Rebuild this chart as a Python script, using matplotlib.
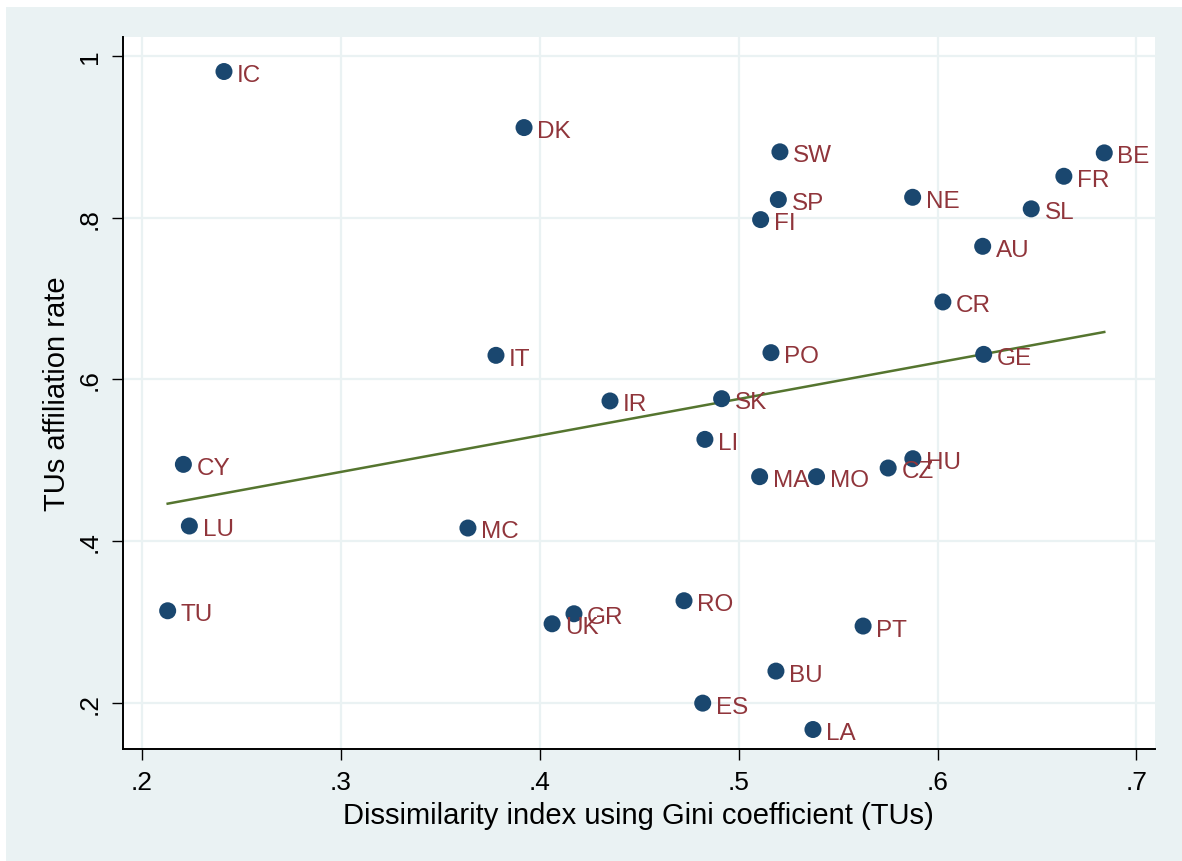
import numpy as np
import matplotlib
matplotlib.use("Agg")
import matplotlib.pyplot as plt
from matplotlib.patches import Rectangle

plt.rcParams['font.family'] = ['Liberation Sans', 'DejaVu Sans']

countries = ["IC", "DK", "SW", "SP", "FI", "NE", "BE", "FR", "SL", "AU", "CR", "GE",
             "PO", "IT", "IR", "SK", "LI", "MA", "MO", "CZ", "HU", "MC", "CY", "LU",
             "TU", "UK", "GR", "RO", "PT", "BU", "ES", "LA"]
gini = [0.2414, 0.3922, 0.5208, 0.5200, 0.5111, 0.5875, 0.6838, 0.6635, 0.6471, 0.6227,
        0.6027, 0.6232, 0.5163, 0.3781, 0.4354, 0.4915, 0.4831, 0.5106, 0.5392, 0.5752,
        0.5876, 0.3640, 0.2210, 0.2240, 0.2131, 0.4063, 0.4173, 0.4726, 0.5626, 0.5188,
        0.4820, 0.5374]
affil = [0.9806, 0.9113, 0.8813, 0.8223, 0.7975, 0.8251, 0.8800, 0.8511, 0.8108, 0.7645,
         0.6957, 0.6309, 0.6330, 0.6297, 0.5733, 0.5761, 0.5258, 0.4797, 0.4797, 0.4904,
         0.5019, 0.4162, 0.4949, 0.4187, 0.3139, 0.2978, 0.3102, 0.3263, 0.2950, 0.2393,
         0.1997, 0.1671]
xticks = [0.2, 0.3, 0.4, 0.5, 0.6, 0.7]
xticklabels = [".2", ".3", ".4", ".5", ".6", ".7"]
yticks = [0.2, 0.4, 0.6, 0.8, 1.0]
yticklabels = [".2", ".4", ".6", ".8", "1"]

W, H = 1182, 862
fig = plt.figure(figsize=(W / 100, H / 100), dpi=100)
fig.patch.set_facecolor("white")
bg = Rectangle((6 / W, 0), 1 - 6 / W, 1 - 8 / H, transform=fig.transFigure,
               facecolor="#EAF2F3", edgecolor="none", zorder=-10)
fig.add_artist(bg)

ax = fig.add_axes([122.5 / W, 1 - 750 / H, (1155 - 122.5) / W, (750 - 37.5) / H])
ax.set_zorder(1)
ax.set_facecolor("white")

x = np.array(gini)
y = np.array(affil)
slope, intercept = np.polyfit(x, y, 1)
xf = np.array([x.min(), x.max()])
ax.plot(xf, intercept + slope * xf, color="#55752F", lw=1.8, zorder=3)

ax.scatter(x, y, s=150, color="#1A476F", edgecolors="none", zorder=4)
for c, xi, yi in zip(countries, gini, affil):
    ax.annotate(c, (xi, yi), xytext=(9.5, -2.5), textcoords="offset points",
                ha="left", va="center", fontsize=17.5, color="#90353B", zorder=5)

ax.set_xlim(0.1904, 0.7093)
ax.set_ylim(0.143, 1.0239)
ax.set_xticks(xticks)
ax.set_xticklabels(xticklabels)
ax.set_yticks(yticks)
ax.set_yticklabels(yticklabels, rotation=90, va="center")
ax.grid(True, color="#EAF2F3", lw=1.6, zorder=0)
ax.set_axisbelow(True)

for s in ["top", "right"]:
    ax.spines[s].set_visible(False)
for s in ["left", "bottom"]:
    ax.spines[s].set_linewidth(1.4)
    ax.spines[s].set_color("black")
ax.tick_params(axis="both", direction="out", length=8, width=1.0, color="black",
               labelsize=19)
ax.tick_params(axis="x", pad=7)
ax.tick_params(axis="y", pad=7)

ax.set_xlabel("Dissimilarity index using Gini coefficient (TUs)", fontsize=21, labelpad=5)
ax.set_ylabel("TUs affiliation rate", fontsize=21, labelpad=5)

fig.savefig("out.png", dpi=100, facecolor=fig.get_facecolor())
